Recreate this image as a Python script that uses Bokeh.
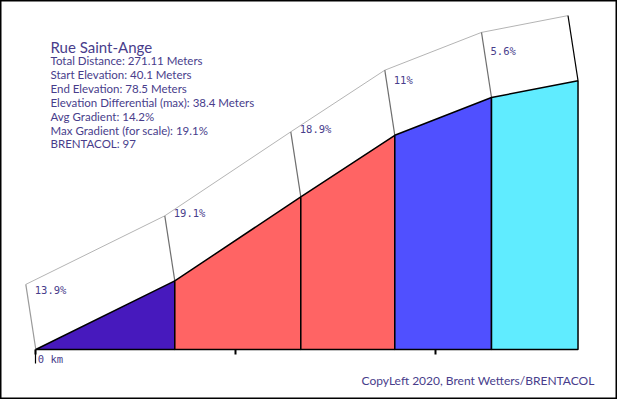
from bokeh.plotting import figure
from bokeh.models import Range1d, LinearAxis, FixedTicker, Label
from bokeh.core.properties import value
from bokeh.embed import file_html
from bokeh.resources import INLINE

# ---- data ----
climb_name = "Rue Saint-Ange"
info_lines = [
    "Total Distance: 271.11 Meters",
    "Start Elevation: 40.1 Meters",
    "End Elevation: 78.5 Meters",
    "Elevation Differential (max): 38.4 Meters",
    "Avg Gradient: 14.2%",
    "Max Gradient (for scale): 19.1%",
    "BRENTACOL: 97",
]
credit = "CopyLeft 2020, Brent Wetters/BRENTACOL"
dist_m = [0.0, 69.5, 132.5, 179.5, 227.85, 271.11]      # cumulative distance at segment boundaries
elev_m = [40.1, 49.9, 61.9, 70.7, 76.1, 78.5]           # elevation at segment boundaries
grad_pct = [13.9, 19.1, 18.9, 11.0, 5.6]
grad_labels = ["13.9%", "19.1%", "18.9%", "11%", "5.6%"]
seg_colors = ["#4719BD", "#FF6464", "#FF6464", "#5050FF", "#60ECFF"]
tick_m = [0, 100, 200]
zero_label = "0 km"

# ---- style ----
TXT = "#483D8B"
DEPTH_X = -5.0     # pseudo-3D offset of the band (data units)
DEPTH_Y = 9.3
W, H = 617, 399
base = elev_m[0]

p = figure(width=W, height=H, output_backend="svg", toolbar_location=None,
           x_range=Range1d(-17.65, 290.35), y_range=Range1d(33.1, 89.957),
           x_axis_type=None, y_axis_type=None, min_border=0,
           min_border_right=1, min_border_bottom=1)
p.outline_line_color = "black"
p.outline_line_width = 2
p.background_fill_color = "white"
p.border_fill_color = "white"

n = len(grad_pct)
# white pseudo-3D bands
band_xs, band_ys = [], []
for i in range(n):
    xs_, xe = dist_m[i], dist_m[i + 1]
    es, ee = elev_m[i], elev_m[i + 1]
    band_xs.append([xs_, xe, xe + DEPTH_X, xs_ + DEPTH_X])
    band_ys.append([es, ee, ee + DEPTH_Y, es + DEPTH_Y])
p.patches(band_xs, band_ys, fill_color="white", line_color=None)

# top edge of bands
p.line([d + DEPTH_X for d in dist_m], [e + DEPTH_Y for e in elev_m],
       line_color="#B4B4B4", line_width=1)
# slanted edges
edge_colors = ["#9A9A9A"] + ["#6E6E6E"] * (n - 1) + ["black"]
p.segment(x0=dist_m, y0=elev_m,
          x1=[d + DEPTH_X for d in dist_m], y1=[e + DEPTH_Y for e in elev_m],
          line_color=edge_colors, line_width=1.2)

# coloured gradient segments
fill_xs, fill_ys = [], []
for i in range(n):
    xs_, xe = dist_m[i], dist_m[i + 1]
    fill_xs.append([xs_, xs_, xe, xe])
    fill_ys.append([base, elev_m[i], elev_m[i + 1], base])
p.patches(fill_xs, fill_ys, fill_color=seg_colors, line_color="black", line_width=1.5)

# gradient labels
lab_y = [elev_m[i] + grad_pct[i] / 100 * 23 + 5.3 for i in range(n)]
p.text(x=dist_m[:-1], y=lab_y, text=grad_labels, text_align="left", text_baseline="middle",
       x_offset=-1, text_color=TXT, text_font=value("DejaVu Sans Mono"), text_font_size="10.5px")

# x axis on the baseline
ax = LinearAxis(fixed_location=base, ticker=FixedTicker(ticks=tick_m),
                major_label_text_color=None, major_label_text_font_size="1px",
                axis_line_color=None, major_tick_in=0, major_tick_out=5,
                major_tick_line_color="black", major_tick_line_width=2,
                minor_tick_line_color=None)
p.add_layout(ax, "below")
ax0 = LinearAxis(fixed_location=base, ticker=FixedTicker(ticks=tick_m[:1]),
                 major_label_text_color=None, major_label_text_font_size="1px",
                 axis_line_color=None, major_tick_in=0, major_tick_out=14,
                 major_tick_line_color="black", major_tick_line_width=1.2,
                 minor_tick_line_color=None)
p.add_layout(ax0, "below")
p.text(x=tick_m[:1], y=[base], text=[zero_label], text_align="left", text_baseline="middle",
       x_offset=2, y_offset=10, text_color=TXT, text_font=value("DejaVu Sans Mono"),
       text_font_size="10.5px")

# info block
p.add_layout(Label(x=50, y=352, x_units="screen", y_units="screen", text=climb_name,
                   text_color=TXT, text_font="Lato", text_font_size="15px",
                   text_baseline="alphabetic"))
for i, t in enumerate(info_lines):
    p.add_layout(Label(x=50, y=338 - 13.9 * i, x_units="screen", y_units="screen", text=t,
                       text_color=TXT, text_font="Lato", text_font_size="11.5px",
                       text_baseline="alphabetic"))
p.add_layout(Label(x=594, y=18, x_units="screen", y_units="screen", text=credit,
                   text_color=TXT, text_font="Lato", text_font_size="12px",
                   text_align="right", text_baseline="alphabetic"))

open("out.html", "w").write(file_html(p, INLINE))
